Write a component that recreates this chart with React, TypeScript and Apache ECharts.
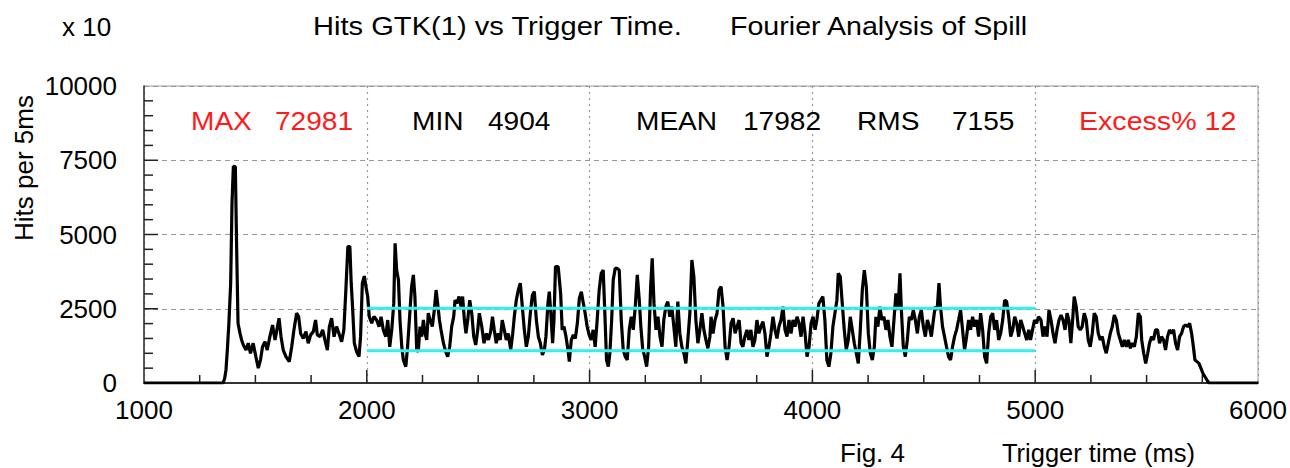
import React, { useEffect, useRef } from "react";
import * as echarts from "echarts";

// Trigger time (ms) sample positions
const times: number[] = [
  1000, 1355, 1362, 1368, 1374, 1381, 1389, 1395, 1401, 1410, 1416, 1422, 1431, 1438, 1446, 1458, 1468, 1478, 1490, 1502,
  1513, 1523, 1532, 1543, 1553, 1565, 1577, 1588, 1595, 1606, 1615, 1625, 1637, 1652, 1663, 1673, 1685, 1694, 1703, 1715,
  1727, 1737, 1748, 1760, 1770, 1778, 1790, 1802, 1812, 1823, 1832, 1842, 1853, 1864, 1875, 1887, 1897, 1906, 1915, 1924,
  1930, 1936, 1944, 1954, 1965, 1972, 1980, 1989, 1996, 2004, 2011, 2022, 2032,
  2044, 2055, 2064, 2074, 2085, 2094, 2103, 2112, 2121, 2127, 2134, 2142, 2149, 2157, 2164, 2175, 2183, 2192, 2201, 2209,
  2216, 2224, 2231, 2239, 2246, 2254, 2261, 2269, 2276, 2284, 2294, 2303, 2311, 2318, 2326, 2333, 2344, 2354, 2363, 2372,
  2381, 2390, 2396, 2405, 2414, 2423, 2430, 2438, 2445, 2453, 2462, 2471, 2480, 2489, 2498, 2505, 2516, 2526, 2537, 2546,
  2556, 2564, 2572, 2581, 2590, 2599, 2608, 2617, 2626, 2635, 2646, 2655, 2662, 2671, 2680, 2689, 2698, 2707, 2716, 2725,
  2734, 2743, 2752, 2761, 2770, 2779, 2788, 2797,
  2804, 2813, 2819, 2826, 2834, 2840, 2847, 2859, 2870, 2877, 2885, 2894, 2903, 2909, 2918, 2927, 2936, 2945, 2954, 2963,
  2972, 2980, 2989, 2998, 3007, 3016, 3025, 3034, 3043, 3052, 3061, 3069, 3076, 3084, 3091, 3099, 3106, 3115, 3124, 3133,
  3142, 3151, 3160, 3169, 3178, 3187, 3196, 3205, 3214, 3223, 3230, 3238, 3247, 3256, 3265, 3274, 3281, 3289, 3298, 3307,
  3316, 3325, 3333, 3342, 3351, 3360, 3369, 3378, 3387, 3396, 3405, 3414, 3423, 3432, 3441, 3450, 3459, 3468, 3477, 3486,
  3495, 3504, 3513, 3522, 3531, 3540,
  3545, 3554, 3563, 3572, 3581, 3590, 3599, 3608, 3617, 3626, 3635, 3644, 3653, 3662, 3671, 3680, 3688, 3697, 3706, 3715,
  3724, 3733, 3742, 3751, 3760, 3769, 3778, 3787, 3796, 3805, 3814, 3823, 3832, 3841, 3850, 3859, 3868, 3877, 3886, 3895,
  3904, 3913, 3922, 3931, 3940, 3949, 3958, 3967, 3976, 3985, 3994, 4003, 4012, 4020, 4029, 4038, 4047, 4056, 4065, 4074,
  4083, 4092, 4101, 4110, 4116, 4125, 4134, 4143, 4152, 4161, 4170, 4179, 4188, 4197, 4206, 4215, 4224, 4233, 4242, 4251,
  4260, 4269, 4278,
  4285, 4294, 4303, 4312, 4321, 4330, 4339, 4348, 4357, 4366, 4375, 4384, 4393, 4400, 4408, 4417, 4426, 4435, 4444, 4453,
  4462, 4471, 4480, 4489, 4498, 4507, 4516, 4525, 4534, 4543, 4551, 4560, 4568, 4575, 4584, 4593, 4602, 4611, 4620, 4629,
  4638, 4647, 4656, 4665, 4674, 4683, 4692, 4701, 4710, 4719, 4728, 4737, 4746, 4755, 4764, 4773, 4782, 4791, 4800, 4809,
  4818, 4827, 4836, 4845, 4854, 4863, 4872, 4881, 4890, 4899, 4908, 4917, 4926, 4935, 4944, 4953, 4962, 4971, 4979, 4988,
  4997, 5006, 5015,
  5026, 5035, 5044, 5053, 5062, 5071, 5080, 5089, 5098, 5107, 5116, 5125, 5134, 5143, 5151, 5160, 5169, 5175, 5184, 5193,
  5202, 5211, 5220, 5229, 5238, 5247, 5256, 5265, 5274, 5283, 5292, 5301, 5310, 5319, 5328, 5337, 5346, 5355, 5364, 5373,
  5382, 5391, 5400, 5409, 5418, 5427, 5436, 5445, 5454, 5463, 5472, 5478, 5487, 5496, 5505, 5513, 5522, 5531, 5540, 5549,
  5558, 5567, 5576, 5585, 5594, 5603, 5612, 5621, 5630, 5639, 5648, 5657, 5666, 5675, 5684, 5693, 5702, 5710, 5717, 5726,
  5735, 5744, 5753, 5762, 5771, 5780, 6000,
];

// Hits per 5 ms (x 10)
const hits: number[] = [
  0, 0, 150, 440, 1110, 2010, 3360, 6050, 7298, 7280, 4480, 2010, 1670, 1450, 1280, 1110, 1340, 1000, 1340, 890,
  500, 780, 1220, 1390, 1110, 1560, 1950, 1450, 1730, 2180, 1560, 1110, 890, 720, 1220, 1790, 2350, 2240, 1670, 1500,
  1730, 1340, 1620, 1730, 2120, 1620, 1560, 1790, 1450, 1110, 1900, 2180, 1560, 1900, 1670, 1390, 1790, 3130, 4590, 4590,
  3360, 2570, 1340, 1060, 890, 1560, 3360, 3600, 3245, 2910, 2240, 2010, 2240,
  2120, 1900, 2230, 1790, 1560, 2120, 1220, 1790, 2680, 4700, 3800, 3470, 2120, 1220, 775, 550, 1220, 2230, 3240, 3640,
  2910, 1110, 1056, 1900, 1560, 2120, 1670, 1450, 2350, 2120, 1900, 2460, 3130, 2680, 2120, 1790, 1340, 1056, 890, 1220,
  1900, 2230, 2790, 2680, 2910, 2570, 2910, 2120, 1670, 2120, 2790, 2350, 1560, 1280, 1790, 2350, 1900, 1340, 1670, 1450,
  1730, 2230, 1790, 1340, 1670, 1450, 2120, 1790, 1450, 1670, 1110, 1670, 2230, 2790, 3130, 3360, 2570, 1790, 1220, 1560,
  2350, 2960, 3075, 2120, 1560, 1340, 945, 1110,
  1560, 2680, 3075, 2350, 1340, 2120, 3920, 3920, 3020, 1790, 1900, 1560, 1110, 720, 1450, 1620, 1500, 2010, 2850, 3075,
  2680, 2350, 1900, 1620, 1450, 1790, 1220, 2120, 3130, 3690, 3800, 2230, 775, 550, 1000, 2120, 3470, 3860, 3860, 3800,
  2120, 1110, 890, 775, 1790, 2230, 1790, 2570, 3640, 2790, 1900, 1170, 890, 550, 1220, 3245, 4200, 2680, 1790, 2230,
  1560, 1220, 2120, 2570, 2740, 2230, 2570, 1900, 1220, 2740, 1670, 1220, 1000, 660, 1450, 2350, 4140, 3580, 2120, 1340,
  1790, 2350, 1790, 1450, 1170, 1560,
  2230, 1670, 2120, 2350, 3130, 3245, 2570, 1220, 775, 1220, 2010, 2180, 1670, 1900, 2120, 1340, 1220, 1560, 1790, 1450,
  1790, 1220, 1450, 2120, 1670, 1900, 2065, 1670, 890, 1220, 1670, 2230, 1790, 1500, 1900, 2120, 2570, 1790, 1560, 2120,
  1670, 2120, 1900, 2230, 2010, 1560, 2230, 1670, 890, 1220, 2010, 2230, 1790, 2120, 2680, 2790, 2910, 2120, 775, 550,
  1000, 1900, 2350, 2790, 3690, 3580, 2680, 1790, 1110, 1450, 2230, 1790, 1340, 1000, 660, 1790, 3130, 3800, 3245, 1670,
  1000, 775, 1220,
  2230, 1900, 2570, 2120, 2230, 1790, 2120, 1560, 1220, 2120, 3020, 2460, 3690, 2350, 1220, 890, 1450, 2230, 2120, 2460,
  2120, 1670, 2230, 2460, 1900, 1560, 2120, 1900, 1560, 2120, 2570, 2460, 3360, 2570, 1900, 1560, 1220, 890, 775, 1220,
  1560, 1790, 2120, 2460, 1790, 1110, 1560, 2120, 1790, 2230, 1900, 2120, 1560, 2350, 1790, 890, 660, 1670, 2230, 2350,
  1790, 2120, 1450, 1670, 2120, 2790, 2740, 2230, 1560, 1790, 2230, 2010, 1560, 2120, 1900, 1670, 1450, 1790, 1450, 1790,
  2120, 2010, 2230,
  2120, 1560, 1900, 1560, 2460, 2120, 1670, 1340, 1790, 2120, 2290, 2120, 1790, 2350, 2120, 1340, 2230, 2910, 2570, 1900,
  1790, 1900, 2350, 2120, 1450, 1220, 1670, 2350, 2230, 1670, 1450, 1560, 1220, 1000, 1340, 1670, 1900, 2290, 2120, 1670,
  1450, 1220, 1450, 1220, 1450, 1170, 1340, 1220, 1560, 2350, 2230, 1450, 1000, 660, 1000, 1340, 1560, 1450, 1790, 1790,
  1340, 1560, 1450, 1110, 1560, 1790, 1670, 1790, 1340, 1110, 1560, 1670, 1900, 1950, 1900, 2010, 1670, 1220, 775, 720,
  660, 495, 320, 210, 100, 0, 0,
];

// Statistics box (counts shown x 10 on the axis)
const statNames: string[] = ["MAX", "MIN", "MEAN", "RMS"];
const statValues: number[] = [72981, 4904, 17982, 7155];
const excessPercent = 12;
const scaleFactor = 10;
// Time window used for the mean ± RMS band
const bandWindow: number[] = [2000, 5000];

// Axis ranges and tick steps
const xRange: number[] = [1000, 6000];
const xMajorStep = 1000;
const xMinorStep = 250;
const yRange: number[] = [0, 10000];
const yMajorStep = 2500;
const yMinorStep = 500;

export default function App() {
  const ref = useRef<HTMLDivElement>(null);

  useEffect(() => {
    const el = ref.current!;
    const chart = echarts.init(el, null, { renderer: "svg" });
    const font = "'Liberation Sans', Arial, Helvetica, sans-serif";
    const mean = statValues[2] / scaleFactor;
    const rms = statValues[3] / scaleFactor;
    const upper = mean + rms;
    const lower = mean - rms;
    const data = times.map((t, i) => [t, hits[i]]);

    // tick marks (drawn through the axes' own scales)
    const xTickData: number[][] = [];
    for (let v = xRange[0] + xMinorStep; v < xRange[1]; v += xMinorStep) {
      xTickData.push([v, yRange[0], v % xMajorStep === 0 ? 1 : 0]);
    }
    const yTickData: number[][] = [];
    for (let v = yRange[0] + yMinorStep; v < yRange[1]; v += yMinorStep) {
      yTickData.push([xRange[0], v, v % yMajorStep === 0 ? 1 : 0]);
    }

    const txt = (text: string, x: number, y: number, fill = "#000", sx = 1.08) => ({
      type: "text",
      x,
      y,
      scaleX: sx,
      silent: true,
      z: 10,
      style: {
        text,
        fill,
        font: `26px ${font}`,
        textAlign: "left",
        textVerticalAlign: "middle",
        verticalAlign: "middle",
      },
    });

    const statX = [
      [191, 275],
      [412, 488],
      [636, 743],
      [857, 952],
    ];
    const statGraphics: any[] = [];
    statNames.forEach((n, i) => {
      const color = i === 0 ? "#ff1a1a" : "#000";
      statGraphics.push(txt(n, statX[i][0], 121, color));
      statGraphics.push(txt(String(statValues[i]), statX[i][1], 121, color));
    });
    statGraphics.push(txt(`Excess% ${excessPercent}`, 1079, 121, "#ff1a1a", 1.1));

    const tickColor = "#222";

    chart.setOption({
      animation: false,
      backgroundColor: "#fff",
      textStyle: { fontFamily: font },
      grid: {
        left: 144,
        right: 32,
        top: 86,
        bottom: 85,
        show: true,
        borderColor: "#999",
        borderWidth: 1,
        backgroundColor: "transparent",
      },
      xAxis: {
        type: "value",
        min: xRange[0],
        max: xRange[1],
        interval: xMajorStep,
        axisLine: { show: true, onZero: false, lineStyle: { color: "#333", width: 2 } },
        axisTick: { show: false },
        splitLine: { show: true, lineStyle: { color: "#999", width: 1.2, type: [2, 4] } },
        axisLabel: {
          fontSize: 26,
          color: "#000",
          margin: 14,
          fontFamily: font,
          formatter: (v: number) => String(v),
        },
      },
      yAxis: {
        type: "value",
        min: yRange[0],
        max: yRange[1],
        interval: yMajorStep,
        axisLine: { show: true, onZero: false, lineStyle: { color: "#333", width: 1.5 } },
        axisTick: { show: false },
        splitLine: { show: true, lineStyle: { color: "#999", width: 1.2, type: [5, 4] } },
        axisLabel: {
          fontSize: 26,
          color: "#000",
          margin: 27,
          fontFamily: font,
          formatter: (v: number) => String(v),
        },
      },
      series: [
        {
          type: "custom",
          data: xTickData,
          encode: { x: 0, y: 1 },
          clip: false,
          silent: true,
          z: 2,
          renderItem: (params: any, api: any) => {
            const p = api.coord([api.value(0), api.value(1)]);
            const len = api.value(2) ? 13 : 8;
            return {
              type: "line",
              shape: { x1: p[0], y1: p[1], x2: p[0], y2: p[1] - len },
              style: { stroke: tickColor, lineWidth: 1.5 },
            };
          },
        },
        {
          type: "custom",
          data: yTickData,
          encode: { x: 0, y: 1 },
          clip: false,
          silent: true,
          z: 2,
          renderItem: (params: any, api: any) => {
            const p = api.coord([api.value(0), api.value(1)]);
            const len = api.value(2) ? 14 : 9;
            return {
              type: "line",
              shape: { x1: p[0], y1: p[1], x2: p[0] + len, y2: p[1] },
              style: { stroke: tickColor, lineWidth: 1.5 },
            };
          },
        },
        {
          type: "line",
          data,
          showSymbol: false,
          symbol: "none",
          lineStyle: { color: "#000", width: 3.2 },
          itemStyle: { color: "#000" },
          z: 3,
        },
        {
          type: "line",
          data: [
            [bandWindow[0], upper],
            [bandWindow[1], upper],
          ],
          showSymbol: false,
          symbol: "none",
          lineStyle: { color: "#33eeee", width: 3 },
          z: 4,
        },
        {
          type: "line",
          data: [
            [bandWindow[0], lower],
            [bandWindow[1], lower],
          ],
          showSymbol: false,
          symbol: "none",
          lineStyle: { color: "#33eeee", width: 3 },
          z: 4,
        },
      ],
      graphic: [
        txt("x 10", 62, 27, "#000", 1.0),
        txt("Hits GTK(1) vs Trigger Time.", 313, 26, "#000", 1.12),
        txt("Fourier Analysis of Spill", 730, 26, "#000", 1.1),
        txt("Fig. 4", 840, 453, "#000", 1.0),
        txt("Trigger time (ms)", 1002, 453, "#000", 0.98),
        {
          type: "text",
          x: 24,
          y: 168,
          rotation: Math.PI / 2,
          silent: true,
          style: {
            text: "Hits per 5ms",
            fill: "#000",
            font: `26px ${font}`,
            textAlign: "center",
            textVerticalAlign: "middle",
            verticalAlign: "middle",
          },
        },
        ...statGraphics,
      ],
    });

    return () => chart.dispose();
  }, []);

  return (
    <div
      ref={ref}
      style={{ position: "fixed", left: 0, top: 0, width: 1290, height: 468, background: "#fff" }}
    />
  );
}
